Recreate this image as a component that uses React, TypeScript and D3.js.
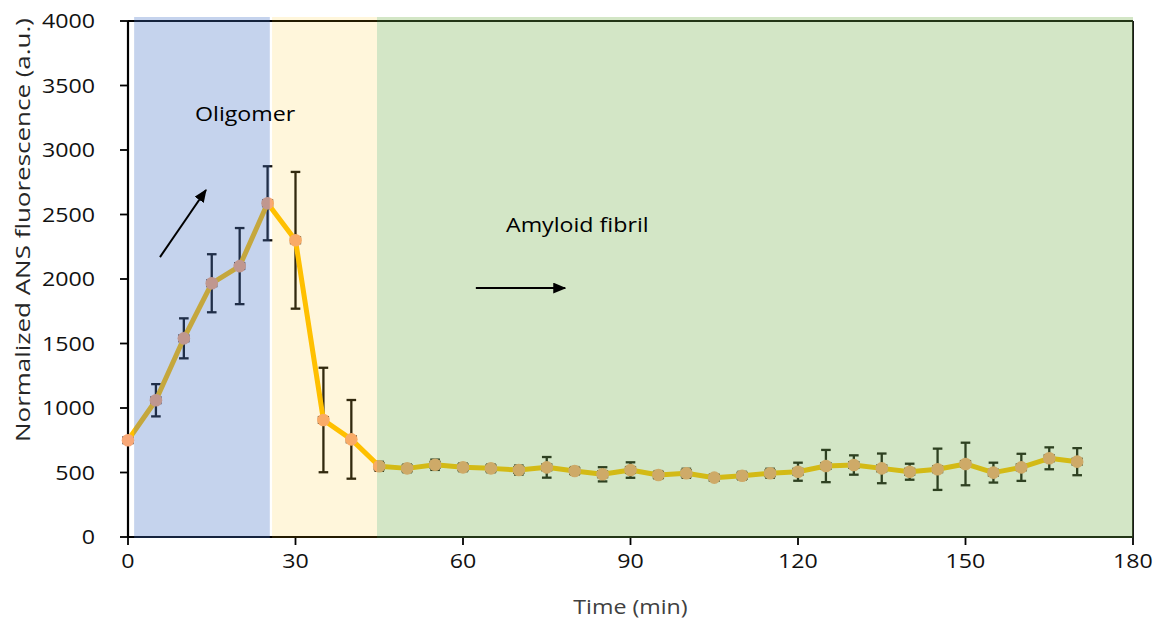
import React from "react";
import * as d3 from "d3";

const times = [0, 5, 10, 15, 20, 25, 30, 35, 40, 45, 50, 55, 60, 65, 70, 75, 80, 85, 90, 95, 100, 105, 110, 115, 120, 125, 130, 135, 140, 145, 150, 155, 160, 165, 170];
const values = [750, 1060, 1540, 1967, 2100, 2587, 2300, 907, 757, 548, 532, 560, 540, 532, 519, 540, 512, 486, 519, 481, 494, 460, 475, 494, 506, 550, 558, 532, 506, 525, 566, 499, 540, 610, 584];
const errors = [10, 125, 155, 225, 295, 287, 530, 405, 305, 35, 30, 40, 30, 30, 35, 80, 30, 55, 60, 30, 35, 25, 30, 35, 70, 125, 75, 115, 62, 160, 165, 77, 105, 85, 105];
const xError = 0.8;

const xTicks = [0, 30, 60, 90, 120, 150, 180];
const yTicks = [0, 500, 1000, 1500, 2000, 2500, 3000, 3500, 4000];

const regionNames = ["oligomer", "transition", "fibril"];
const regionStart = [1.1, 25.8, 44.6];
const regionEnd = [25.4, 44.6, 180];
const regionColors = ["#4472C4", "#FFC000", "#70AD47"];
const regionOpacity = [0.31, 0.14, 0.31];

const W = 1163;
const H = 626;
const M = { left: 128, right: 30, top: 21, bottom: 89 };
const SX = 1.16;
const FONT = "'Open Sans', sans-serif";

export default function App() {
  const x = d3.scaleLinear().domain([0, 180]).range([M.left, W - M.right]);
  const y = d3.scaleLinear().domain([0, 4000]).range([H - M.bottom, M.top]);
  const pts = times.map((t, i) => ({ t, v: values[i], e: errors[i] }));
  const line = d3.line<{ t: number; v: number }>().x((d) => x(d.t)).y((d) => y(d.v));
  const x0 = x(0), x1 = x(180), y0 = y(0), y1 = y(4000);

  const hText = (tx: number, ty: number, s: string, anchor: string, fill: string, size = 20, key?: any) => (
    <g key={key} transform={`translate(${tx},${ty}) scale(${SX},1)`}>
      <text x={0} y={0} textAnchor={anchor} fill={fill} fontSize={size} fontFamily={FONT}>{s}</text>
    </g>
  );

  return (
    <div style={{ position: "fixed", left: 0, top: 0, width: W, height: H, background: "#fff" }}>
      <svg width={W} height={H} viewBox={`0 0 ${W} ${H}`}>
        <defs>
          <marker id="ah2" viewBox="0 0 12 10" refX="11" refY="5" markerWidth="13" markerHeight="11" markerUnits="userSpaceOnUse" orient="auto">
            <path d="M0,0 L12,5 L0,10 Z" fill="#000" />
          </marker>
        </defs>
        {/* frame top & right */}
        <line x1={x0} x2={x1} y1={y1} y2={y1} stroke="#000" strokeWidth={1.8} />
        <line x1={x1} x2={x1} y1={y1} y2={y0} stroke="#000" strokeWidth={1.8} />
        {/* axes */}
        <line x1={x0} x2={x1} y1={y0} y2={y0} stroke="#000" strokeWidth={2.2} />
        <line x1={x0} x2={x0} y1={y1} y2={y0} stroke="#000" strokeWidth={2.2} />
        {yTicks.map((t) => (
          <line key={"yt" + t} x1={x0 - 8} x2={x0} y1={y(t)} y2={y(t)} stroke="#000" strokeWidth={1.8} />
        ))}
        {xTicks.map((t) => (
          <line key={"xt" + t} x1={x(t)} x2={x(t)} y1={y0} y2={y0 + 8} stroke="#000" strokeWidth={1.8} />
        ))}
        {/* error bars */}
        {pts.map((p, i) => (
          <g key={"eb" + i} stroke="#111" strokeWidth={2.3}>
            <line x1={x(p.t)} x2={x(p.t)} y1={y(p.v + p.e)} y2={y(p.v - p.e)} />
            <line x1={x(p.t) - 4.8} x2={x(p.t) + 4.8} y1={y(p.v + p.e)} y2={y(p.v + p.e)} />
            <line x1={x(p.t) - 4.8} x2={x(p.t) + 4.8} y1={y(p.v - p.e)} y2={y(p.v - p.e)} />
            <line x1={x(p.t - xError)} x2={x(p.t + xError)} y1={y(p.v)} y2={y(p.v)} />
            <line x1={x(p.t - xError)} x2={x(p.t - xError)} y1={y(p.v) - 4} y2={y(p.v) + 4} />
            <line x1={x(p.t + xError)} x2={x(p.t + xError)} y1={y(p.v) - 4} y2={y(p.v) + 4} />
          </g>
        ))}
        <path d={line(pts) || ""} fill="none" stroke="#FFC000" strokeWidth={5} strokeLinejoin="round" />
        {pts.map((p, i) => (
          <circle key={"m" + i} cx={x(p.t)} cy={y(p.v)} r={6.3} fill="#F8A878" />
        ))}
        {/* region overlays */}
        {regionNames.map((n, i) => (
          <rect key={n} x={x(regionStart[i])} width={x(regionEnd[i]) - x(regionStart[i])} y={y1 - 4} height={y0 - y1 + 5}
            fill={regionColors[i]} fillOpacity={regionOpacity[i]} />
        ))}
        {/* tick labels */}
        {yTicks.map((t) => hText(x0 - 33, y(t) + 7, String(t), "end", "#111", 20, "yl" + t))}
        {xTicks.map((t) => hText(x(t), y0 + 31, String(t), "middle", "#111", 20, "xl" + t))}
        {/* titles */}
        {hText((x0 + x1) / 2, 614, "Time (min)", "middle", "#404040")}
        <text transform={`translate(30,${230}) rotate(-90)`} textAnchor="middle" fill="#262626" fontSize={20}
          fontFamily={FONT} textLength={424} lengthAdjust="spacingAndGlyphs">Normalized ANS fluorescence (a.u.)</text>
        {/* annotations */}
        {hText(x(12.0), y(3225), "Oligomer", "start", "#000")}
        {hText(x(67.7), y(2364), "Amyloid fibril", "start", "#000")}
        <line x1={x(5.73)} y1={y(2170)} x2={x(13.97)} y2={y(2690)} stroke="#000" strokeWidth={2} markerEnd="url(#ah2)" />
        <line x1={x(62.3)} y1={y(1930)} x2={x(78.3)} y2={y(1930)} stroke="#000" strokeWidth={2} markerEnd="url(#ah2)" />
      </svg>
    </div>
  );
}
